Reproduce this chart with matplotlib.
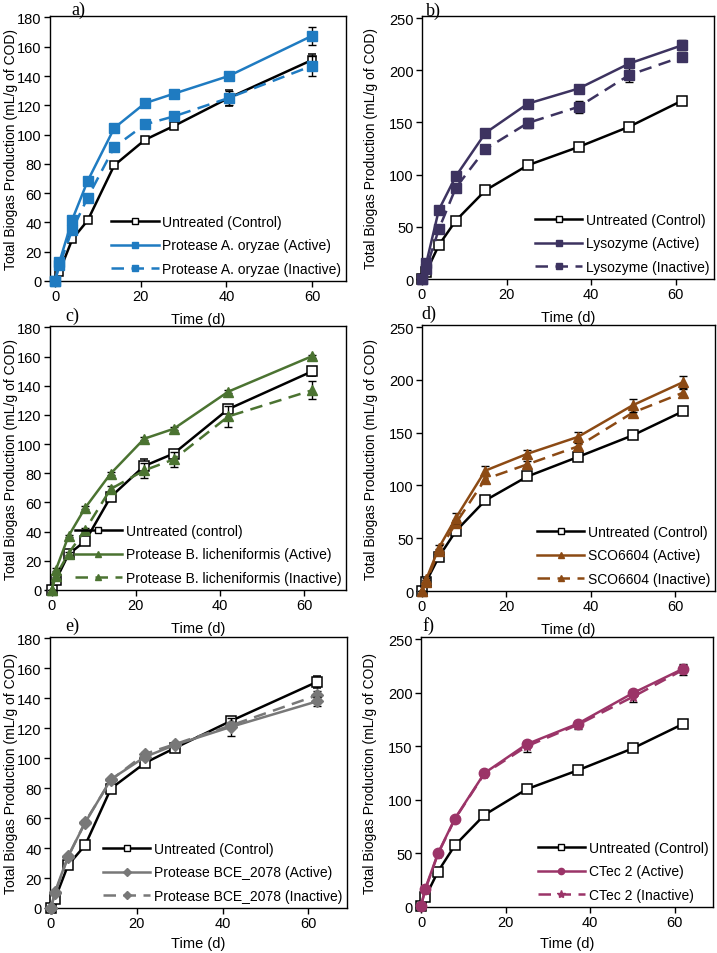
import matplotlib
matplotlib.use("Agg")
import matplotlib.pyplot as plt
from matplotlib.lines import Line2D

plt.rcParams['font.family'] = ['Liberation Sans', 'DejaVu Sans']

# ---------------- data ----------------
days_a = [0, 1, 4, 7.6, 13.8, 21, 27.8, 40.5, 60]
ctrl_a = [0, 6.4, 28.5, 41.4, 79, 96.5, 106, 125, 151]
act_a = [0, 13, 42, 68.4, 104.5, 121.5, 128, 140, 167.5]
inact_a = [0, 11, 35, 57, 91.5, 107, 112.5, 125, 147]
ctrl_a_err = [0, 0, 1, 1, 1, 1, 1, 5.5, 4]
act_a_err = [0, 1, 1, 1, 1, 1, 1, 1, 6]
inact_a_err = [0, 1, 2, 1, 1, 1, 1, 5, 7]

days_b = [0, 1, 4, 8, 15, 25, 37, 49, 61.5]
ctrl_b = [0, 6.8, 32.6, 56, 85, 109, 126.5, 146, 171]
act_b = [0, 15, 66.5, 98.5, 140, 168, 182.5, 206.5, 224]
inact_b = [0, 10, 48, 87.5, 124.5, 149.5, 165, 195.5, 213]
ctrl_b_err = [0, 1, 1, 1, 1, 1, 1, 1, 2]
act_b_err = [0, 1, 1, 1, 1, 1, 1, 2, 5]
inact_b_err = [0, 1, 1, 1, 2, 5, 6, 7, 4]

days_c = [0, 1, 4, 8, 14, 22, 29, 42, 62]
ctrl_c = [0, 6.8, 24.5, 33.6, 63.7, 85, 93.5, 124, 150]
act_c = [0, 13.9, 37, 56.5, 79.7, 103.7, 110.5, 136, 160.4]
inact_c = [0, 9.8, 25, 41.4, 69.2, 82, 89.5, 119, 137]
ctrl_c_err = [0, 1, 1, 1, 1, 5, 2, 2, 3]
act_c_err = [0, 1, 1, 1, 1, 1, 1, 1, 1]
inact_c_err = [0, 1, 1, 1, 2, 5, 5, 7, 6]

days_d = [0, 1, 4, 8, 15, 25, 37, 50, 62]
ctrl_d = [0, 8.8, 32.4, 56.6, 85.8, 108.5, 127, 147.5, 170.4]
act_d = [0, 11, 41, 69, 114, 130, 146, 176, 198]
inact_d = [0, 9, 38, 64, 106, 120, 137, 169, 188]
ctrl_d_err = [0, 1, 1, 1, 1, 1, 1, 1, 1]
act_d_err = [0, 1, 3, 5, 4, 4, 5, 6, 6]
inact_d_err = [0, 1, 2, 3, 3, 3, 3, 3, 3]

days_e = [0, 1, 4, 8, 14, 22, 29, 42, 62]
ctrl_e = [0, 6.2, 28.6, 42, 79.8, 97, 107, 125, 151]
act_e = [0, 11, 34.5, 57, 86, 101, 109, 121, 138]
inact_e = [0, 10, 34, 57.5, 85.5, 103, 109.5, 122, 142]
ctrl_e_err = [0, 1, 1, 1, 1, 1, 1, 2, 4]
act_e_err = [0, 1, 1, 1, 1, 1, 1, 6, 3]
inact_e_err = [0, 1, 1, 1, 1, 1, 1, 2, 3]

days_f = [0, 1, 4, 8, 15, 25, 37, 50, 62]
ctrl_f = [1, 9, 33, 57.5, 86, 110, 127.5, 148, 171]
act_f = [1, 17, 50, 82.5, 125, 152, 171, 199.5, 222.5]
inact_f = [1, 16, 49.5, 82, 124.5, 150, 170, 196, 221.5]
ctrl_f_err = [0, 1, 1, 1, 1, 1, 1, 1, 1]
act_f_err = [0, 1, 1, 1, 1, 3, 3, 3, 3]
inact_f_err = [0, 1, 1, 1, 2, 5, 4, 5, 5]

labels_a = ['Untreated (Control)', 'Protease A. oryzae (Active)', 'Protease A. oryzae (Inactive)']
labels_b = ['Untreated (Control)', 'Lysozyme (Active)', 'Lysozyme (Inactive)']
labels_c = ['Untreated (control)', 'Protease B. licheniformis (Active)', 'Protease B. licheniformis (Inactive)']
labels_d = ['Untreated (Control)', 'SCO6604 (Active)', 'SCO6604 (Inactive)']
labels_e = ['Untreated (Control)', 'Protease BCE_2078 (Active)', 'Protease BCE_2078 (Inactive)']
labels_f = ['Untreated (Control)', 'CTec 2 (Active)', 'CTec 2 (Inactive)']

yticks_left = list(range(0, 181, 20))
yticks_right = list(range(0, 251, 50))
xticks = [0, 20, 40, 60]

# ---------------- figure ----------------
fig = plt.figure(figsize=(7.17, 9.54), dpi=100)
W, H = 717, 954


def make_ax(l, t, r, b):
    ax = fig.add_axes([l / W, 1 - b / H, (r - l) / W, (b - t) / H])
    ax.patch.set_alpha(0)
    return ax


def panel(ax, days, ctrl, act, inact, errs, color, markers, msize, labels,
          yticks, ylim, xlim, xlabelpad, ylabel_x, tag, tagpos, lmsize=4.5):
    ce, ae, ie = errs
    m_act, m_inact = markers
    ax.errorbar(days, ctrl, yerr=ce, color='black', lw=1.8, marker='s',
                ms=msize[0], mfc='white', mec='black', mew=1.1, ecolor='black',
                elinewidth=1, capsize=3, clip_on=False, zorder=3)
    ax.errorbar(days, inact, yerr=ie, color=color, lw=1.8, ls=(0, (5, 3)),
                marker=m_inact, ms=msize[1], mfc=color, mec=color, ecolor='black',
                elinewidth=1, capsize=3, clip_on=False, zorder=4)
    ax.errorbar(days, act, yerr=ae, color=color, lw=1.8, marker=m_act,
                ms=msize[1], mfc=color, mec=color, ecolor='black',
                elinewidth=1, capsize=3, clip_on=False, zorder=5)
    ax.set_xlim(*xlim)
    ax.set_ylim(*ylim)
    ax.set_xticks(xticks)
    ax.set_yticks(yticks)
    ax.tick_params(direction='out', length=4, width=1, labelsize=10.5, pad=2)
    for s in ax.spines.values():
        s.set_linewidth(1.0)
    ax.set_ylabel('Total Biogas Production (mL/g of COD)', fontsize=10)
    ax.yaxis.set_label_coords(ylabel_x, 0.5)
    ax.set_xlabel('Time (d)', fontsize=10.5, labelpad=xlabelpad)
    inact_ms = lmsize + 1.5 if m_inact == '*' else lmsize
    handles = [
        Line2D([], [], color='black', lw=1.8, marker='s', ms=lmsize, mfc='white', mec='black'),
        Line2D([], [], color=color, lw=1.8, marker=m_act, ms=lmsize, mfc=color, mec=color),
        Line2D([], [], color=color, lw=1.8, ls=(0, (5, 3)), marker=m_inact, ms=inact_ms,
               mfc=color, mec=color),
    ]
    ax.legend(handles, labels, loc='lower right', frameon=False, fontsize=10,
              handlelength=3.4, handletextpad=0.25, labelspacing=0.7,
              borderaxespad=0.15, borderpad=0.2)
    fig.text(tagpos[0] / W, 1 - tagpos[1] / H, tag, fontsize=13,
             family=['Liberation Serif', 'DejaVu Serif'], ha='center', va='center')


LY = (18 - 50) / 296
RY = (378 - 422) / 292

ax_a = make_ax(50, 17, 346, 282)
panel(ax_a, days_a, ctrl_a, act_a, inact_a, (ctrl_a_err, act_a_err, inact_a_err),
      '#1F7BC1', ('s', 's'), (6, 6.5), labels_a, yticks_left, (0, 181), (-1.2, 67.9),
      6, LY, 'a)', (78, 10))

ax_b = make_ax(422, 17, 714, 280)
panel(ax_b, days_b, ctrl_b, act_b, inact_b, (ctrl_b_err, act_b_err, inact_b_err),
      '#3D3360', ('s', 's'), (7, 7), labels_b, yticks_right, (0, 252), (0, 69),
      6.5, RY, 'b)', (433, 11))

ax_c = make_ax(50, 327, 346, 591)
panel(ax_c, days_c, ctrl_c, act_c, inact_c, (ctrl_c_err, act_c_err, inact_c_err),
      '#4B7331', ('^', '^'), (7, 7.5), labels_c, yticks_left, (0, 181), (-0.4, 70),
      6.5, LY, 'c)', (72, 316))

ax_d = make_ax(422, 326, 715, 592)
panel(ax_d, days_d, ctrl_d, act_d, inact_d, (ctrl_d_err, act_d_err, inact_d_err),
      '#8C4A14', ('^', '^'), (7, 7.5), labels_d, yticks_right, (0, 252), (0, 69.5),
      6.5, RY, 'd)', (429, 314))

ax_e = make_ax(50, 638, 347, 909)
panel(ax_e, days_e, ctrl_e, act_e, inact_e, (ctrl_e_err, act_e_err, inact_e_err),
      '#787878', ('D', 'D'), (6.5, 6.5), labels_e, yticks_left, (0, 181), (-0.2, 69),
      4, LY, 'e)', (72, 626))

ax_f = make_ax(421, 638, 713, 908)
panel(ax_f, days_f, ctrl_f, act_f, inact_f, (ctrl_f_err, act_f_err, inact_f_err),
      '#9B3468', ('o', '*'), (7, 7.5), labels_f, yticks_right, (0, 252), (0, 69),
      5, RY, 'f)', (428, 626))

fig.savefig('out.png', dpi=100)
